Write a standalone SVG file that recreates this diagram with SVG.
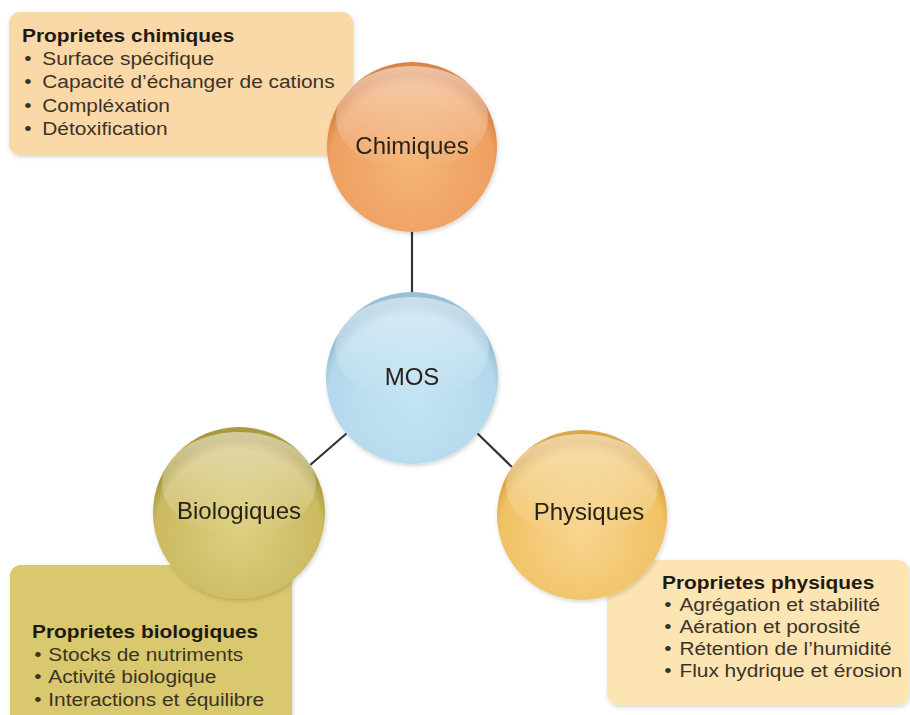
<svg xmlns="http://www.w3.org/2000/svg" width="910" height="715" viewBox="0 0 910 715">
  <defs>
    <style>
      .title { font-family: "Liberation Sans", Arial, sans-serif; font-size: 18px; font-weight: bold; fill: #1e1a14; }
      .item { font-family: "Liberation Sans", Arial, sans-serif; font-size: 18px; fill: #3a3328; }
      .label { font-family: "Liberation Sans", Arial, sans-serif; font-size: 24px; fill: #2a2418; text-anchor: middle; }
      .link { stroke: #333; stroke-width: 2.2; fill: none; }
      .gloss { fill: url(#gloss); }
    </style>
    <filter id="soft" x="-10%" y="-10%" width="120%" height="120%">
      <feDropShadow dx="1" dy="2" stdDeviation="2" flood-color="#000" flood-opacity="0.16"/>
    </filter>
    <linearGradient id="gloss" x1="0" y1="0" x2="0" y2="1">
      <stop offset="0" stop-color="#fff" stop-opacity="0.5"/>
      <stop offset="1" stop-color="#fff" stop-opacity="0"/>
    </linearGradient>
    <radialGradient id="gChim" cx="0.5" cy="0.62" r="0.55">
      <stop offset="0" stop-color="#f5b476"/>
      <stop offset="0.88" stop-color="#eea062"/>
      <stop offset="1" stop-color="#d98448"/>
    </radialGradient>
    <radialGradient id="gMos" cx="0.5" cy="0.62" r="0.55">
      <stop offset="0" stop-color="#c2e4f5"/>
      <stop offset="0.88" stop-color="#b5d9ec"/>
      <stop offset="1" stop-color="#98bfd6"/>
    </radialGradient>
    <radialGradient id="gBio" cx="0.5" cy="0.62" r="0.55">
      <stop offset="0" stop-color="#dccf80"/>
      <stop offset="0.88" stop-color="#cbba60"/>
      <stop offset="1" stop-color="#a9993f"/>
    </radialGradient>
    <radialGradient id="gPhy" cx="0.5" cy="0.62" r="0.55">
      <stop offset="0" stop-color="#f8d48e"/>
      <stop offset="0.88" stop-color="#f0c264"/>
      <stop offset="1" stop-color="#dca646"/>
    </radialGradient>
  </defs>

  <rect width="910" height="715" fill="#ffffff"/>

  <!-- property panels -->
  <g id="box-chimiques">
    <rect x="9" y="12" width="344" height="143" rx="11" fill="#fbd8a7" filter="url(#soft)"/>
    <g transform="translate(22,0) scale(1.16,1)">
      <text class="title" x="0" y="42">Proprietes chimiques</text>
      <text class="item" x="2" y="65">•</text>
      <text class="item" x="17.5" y="65">Surface spécifique</text>
      <text class="item" x="2" y="88.5">•</text>
      <text class="item" x="17.5" y="88.5">Capacité d’échanger de cations</text>
      <text class="item" x="2" y="112">•</text>
      <text class="item" x="17.5" y="112">Compléxation</text>
      <text class="item" x="2" y="135.5">•</text>
      <text class="item" x="17.5" y="135.5">Détoxification</text>
    </g>
  </g>

  <g id="box-biologiques">
    <rect x="10" y="565" width="282" height="165" rx="11" fill="#d9c86d" filter="url(#soft)"/>
    <g transform="translate(32,0) scale(1.16,1)">
      <text class="title" x="0" y="638">Proprietes biologiques</text>
      <text class="item" x="2" y="661">•</text>
      <text class="item" x="14" y="661">Stocks de nutriments</text>
      <text class="item" x="2" y="683">•</text>
      <text class="item" x="14" y="683">Activité biologique</text>
      <text class="item" x="2" y="706">•</text>
      <text class="item" x="14" y="706">Interactions et équilibre</text>
    </g>
  </g>

  <g id="box-physiques">
    <rect x="607" y="560" width="302" height="145" rx="11" fill="#fde4b3" filter="url(#soft)"/>
    <g transform="translate(662,0) scale(1.16,1)">
      <text class="title" x="0" y="589">Proprietes physiques</text>
      <text class="item" x="2" y="611">•</text>
      <text class="item" x="15" y="611">Agrégation et stabilité</text>
      <text class="item" x="2" y="633">•</text>
      <text class="item" x="15" y="633">Aération et porosité</text>
      <text class="item" x="2" y="655">•</text>
      <text class="item" x="15" y="655">Rétention de l’humidité</text>
      <text class="item" x="2" y="677">•</text>
      <text class="item" x="15" y="677">Flux hydrique et érosion</text>
    </g>
  </g>

  <!-- connectors -->
  <g id="connectors">
    <line class="link" x1="412" y1="230" x2="412" y2="293"/>
    <line class="link" x1="347" y1="433" x2="309" y2="466"/>
    <line class="link" x1="477" y1="433" x2="514" y2="469"/>
  </g>

  <!-- circle nodes -->
  <g id="node-chimiques" filter="url(#soft)">
    <circle cx="412" cy="147" r="85" fill="url(#gChim)"/>
    <ellipse class="gloss" cx="412" cy="118" rx="76" ry="52"/>
    <text class="label" x="412" y="154">Chimiques</text>
  </g>

  <g id="node-mos" filter="url(#soft)">
    <circle cx="412" cy="378" r="86" fill="url(#gMos)"/>
    <ellipse class="gloss" cx="412" cy="349" rx="77" ry="52"/>
    <text class="label" x="412" y="385">MOS</text>
  </g>

  <g id="node-biologiques" filter="url(#soft)">
    <circle cx="239" cy="513" r="86" fill="url(#gBio)"/>
    <ellipse class="gloss" cx="239" cy="484" rx="77" ry="52"/>
    <text class="label" x="239" y="519">Biologiques</text>
  </g>

  <g id="node-physiques" filter="url(#soft)">
    <circle cx="582" cy="515" r="85" fill="url(#gPhy)"/>
    <ellipse class="gloss" cx="582" cy="486" rx="76" ry="52"/>
    <text class="label" x="589" y="520">Physiques</text>
  </g>
</svg>
